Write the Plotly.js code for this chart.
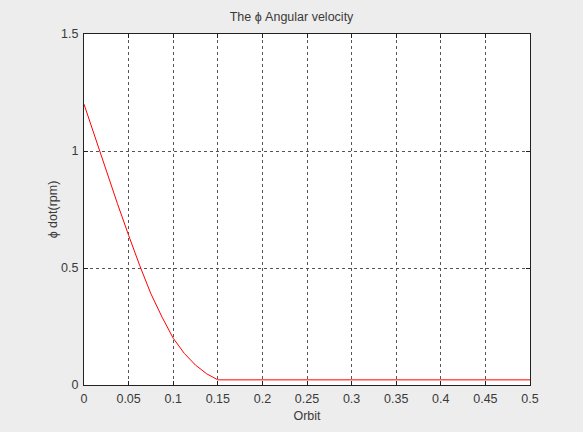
<!DOCTYPE html>
<html>
<head>
<meta charset="utf-8">
<script src="https://cdn.plot.ly/plotly-3.0.1.min.js"></script>
<style>html,body{margin:0;padding:0;background:#ededed;}#chart{width:583px;height:432px;}</style>
</head>
<body>
<div id="chart"></div>
<script>
const orbit = [0, 0.0125, 0.025, 0.0375, 0.05, 0.0625, 0.075, 0.0875, 0.1, 0.1125, 0.125, 0.1375, 0.15, 0.2, 0.3, 0.4, 0.5];
const phiDot = [1.20, 1.055, 0.915, 0.775, 0.64, 0.51, 0.39, 0.29, 0.20, 0.135, 0.085, 0.048, 0.022, 0.022, 0.022, 0.022, 0.022];
const xTicks = [0, 0.05, 0.1, 0.15, 0.2, 0.25, 0.3, 0.35, 0.4, 0.45, 0.5];
const xTickText = ['0', '0.05', '0.1', '0.15', '0.2', '0.25', '0.3', '0.35', '0.4', '0.45', '0.5'];
const yTicks = [0, 0.5, 1, 1.5];
const yTickText = ['0', '0.5', '1', '1.5'];

const font = {family: 'Liberation Sans, Arial, sans-serif', size: 12.5, color: '#3a3a3a'};
const axisCommon = {
  showline: true, linecolor: '#222', linewidth: 1, mirror: 'ticks',
  ticks: 'inside', ticklen: 4, tickcolor: '#222',
  showgrid: true, gridcolor: '#555', gridwidth: 1, griddash: '3px,3px',
  zeroline: false, tickfont: font, tickmode: 'array', fixedrange: true
};
Plotly.newPlot('chart', [{
  x: orbit, y: phiDot, type: 'scatter', mode: 'lines',
  line: {color: '#ff0000', width: 1}, hoverinfo: 'skip'
}], {
  width: 583, height: 432,
  paper_bgcolor: '#ededed', plot_bgcolor: '#ffffff',
  margin: {l: 84, r: 53, t: 34, b: 47},
  showlegend: false,
  title: {text: 'The \u03D5 Angular velocity', font: font, x: 0.5, xanchor: 'center', y: 1 - 17/432, yanchor: 'middle'},
  xaxis: Object.assign({}, axisCommon, {range: [0, 0.5], tickvals: xTicks, ticktext: xTickText, ticklabelstandoff: 2,
    title: {text: 'Orbit', font: font, standoff: 6}}),
  yaxis: Object.assign({}, axisCommon, {range: [0, 1.5], tickvals: yTicks, ticktext: yTickText, ticklabelstandoff: 2,
    title: {text: '\u03D5 dot(rpm)', font: font, standoff: 0}})
}, {staticPlot: true});
</script>
</body>
</html>
